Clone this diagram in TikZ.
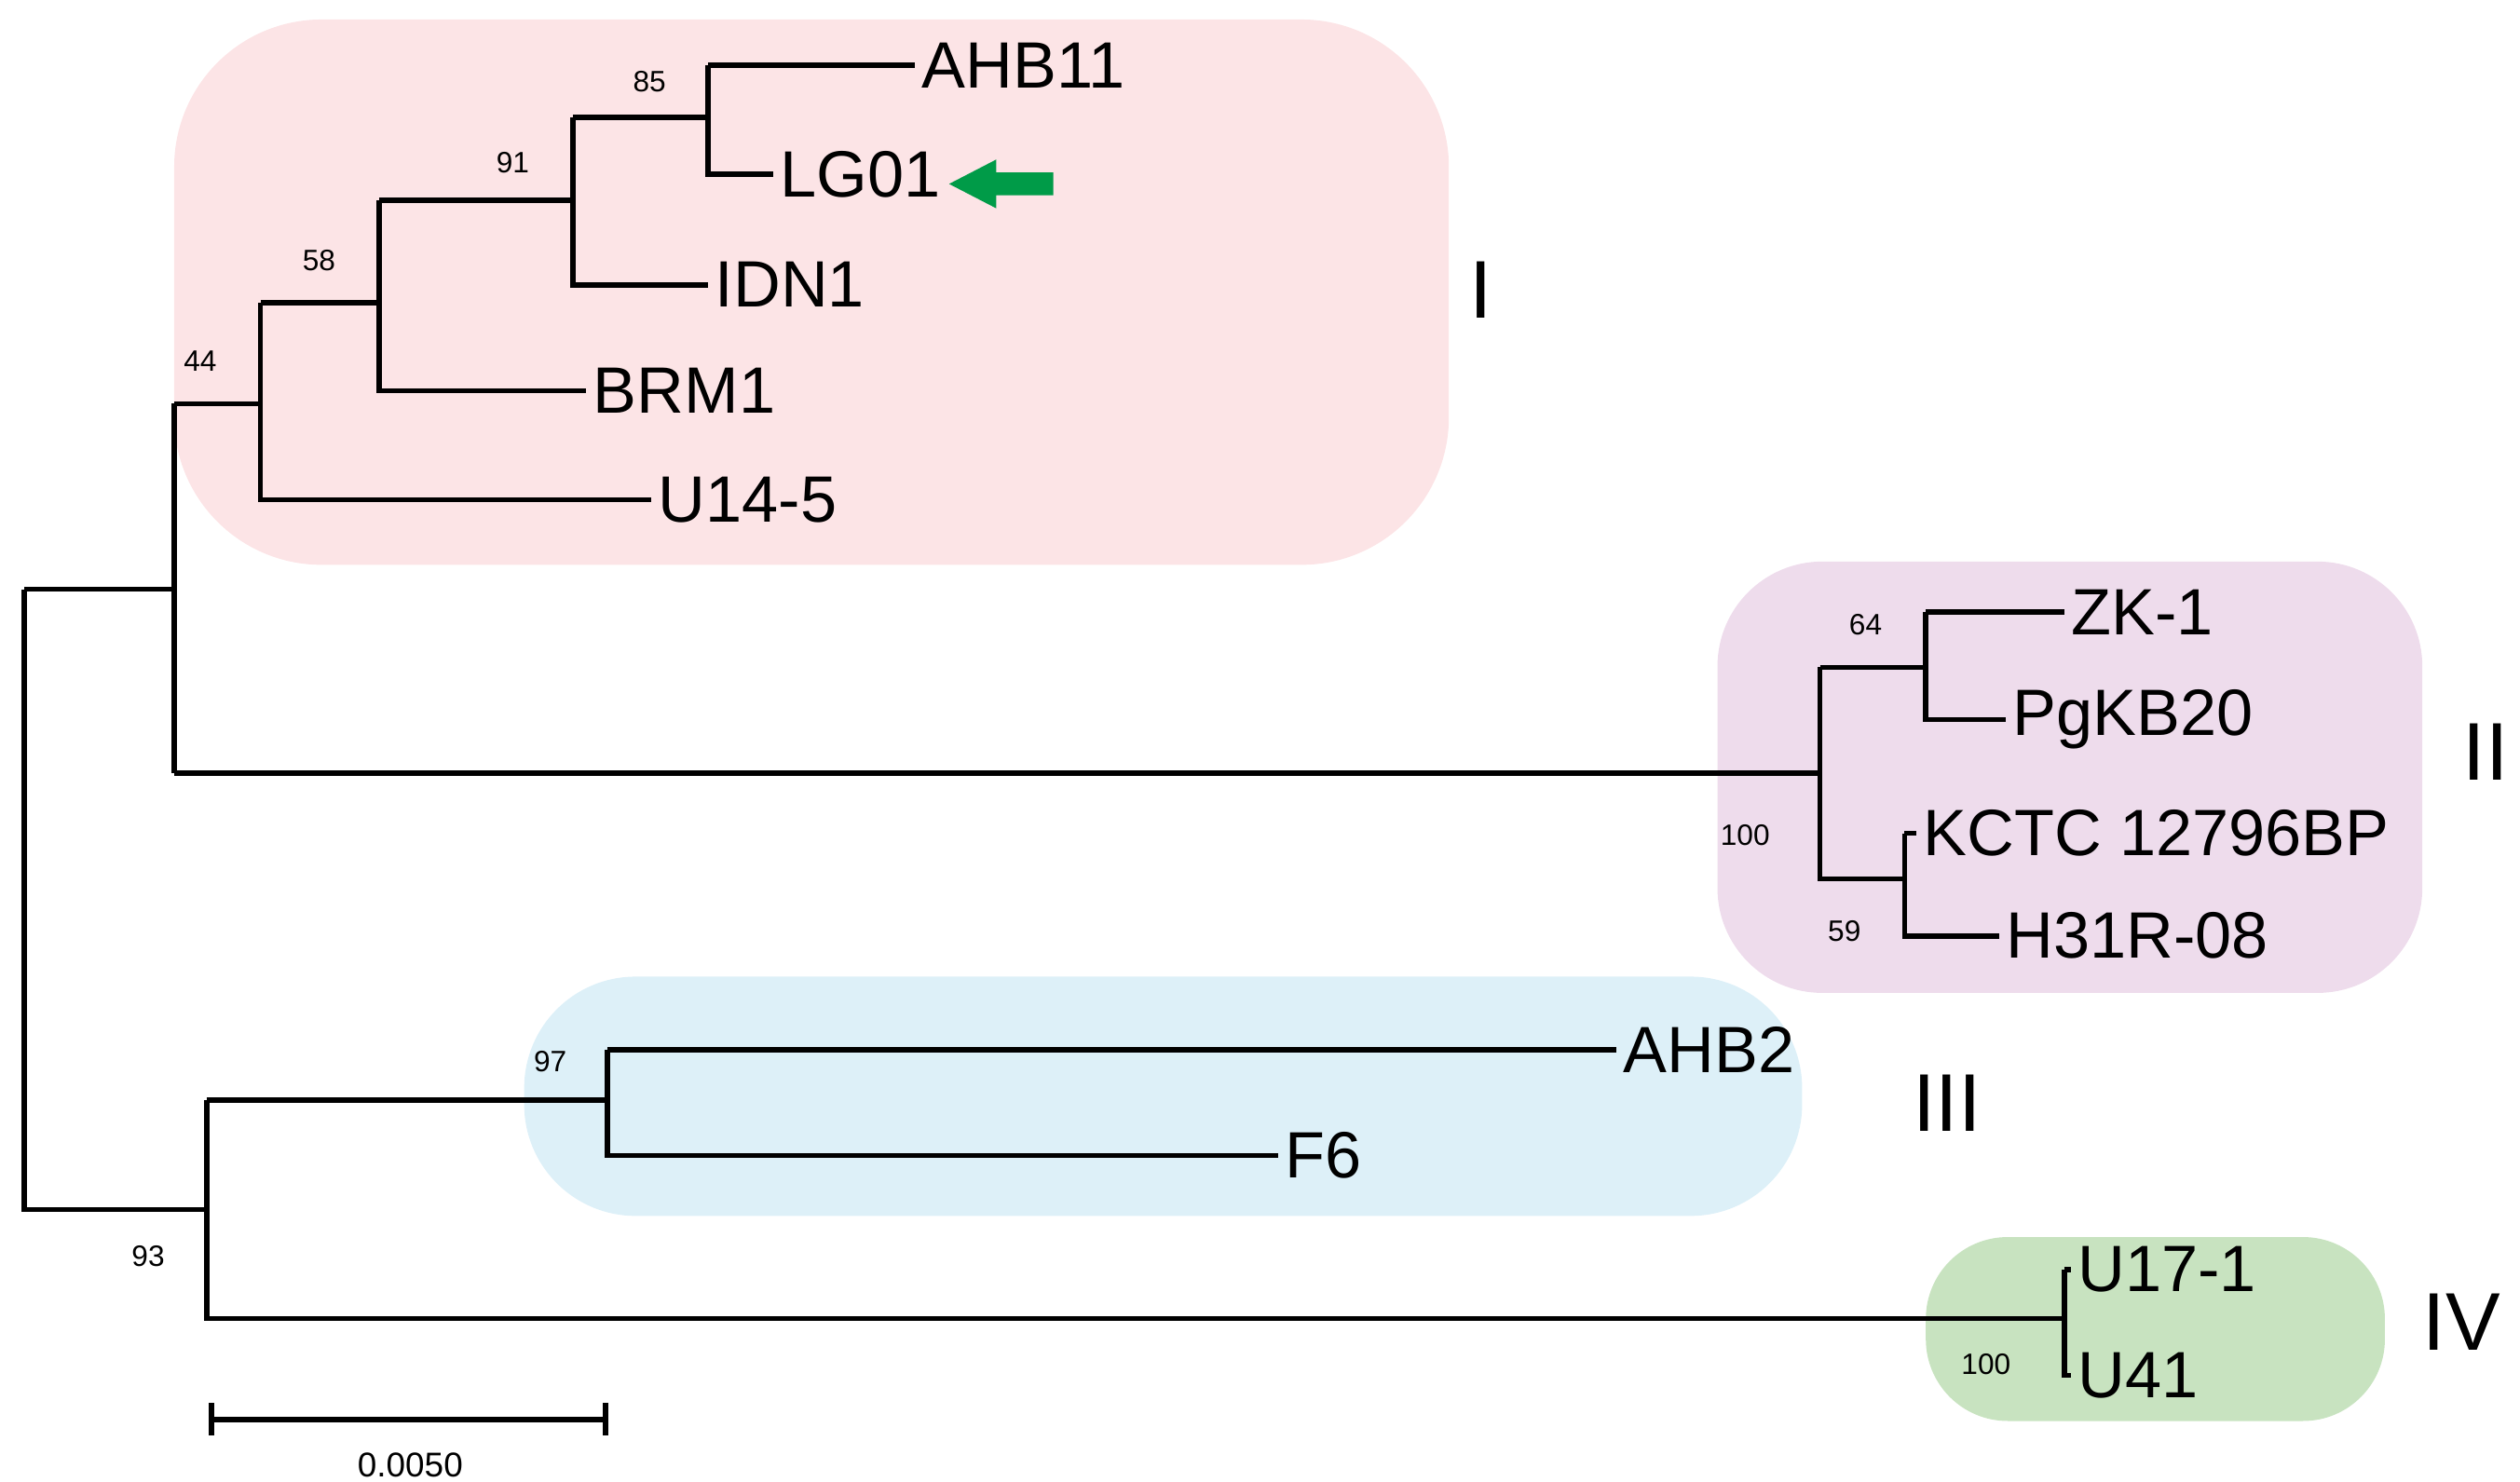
\documentclass[tikz,border=0pt]{standalone}
\usepackage{fontspec}
\setmainfont{Liberation Sans}
\begin{document}
\begin{tikzpicture}[x=0.017474cm,y=-0.017474cm,
 br/.style={line width=1.6pt},
 tip/.style={anchor=west,inner sep=2pt,font=\fontsize{20}{20}\selectfont},
 bs/.style={font=\fontsize{9}{10}\selectfont,inner sep=0pt},
 cl/.style={font=\fontsize{25}{25}\selectfont,inner sep=0pt},
 box/.style={rounded corners=45pt}]
\useasboundingbox (0,0) rectangle (1548,910);
\fill[box,fill={rgb,255:red,252;green,228;blue,230}] (107,12) rectangle (890,347);
\fill[rounded corners=32pt,fill={rgb,255:red,238;green,220;blue,236}] (1055,345) rectangle (1488,610);
\fill[rounded corners=34pt,fill={rgb,255:red,221;green,240;blue,248}] (322,600) rectangle (1107,747);
\fill[rounded corners=25pt,fill={rgb,255:red,200;green,227;blue,192}] (1183,760) rectangle (1465,873);
% internal nodes
\coordinate (r) at (15,362);
\coordinate (a) at (107,362);
\coordinate (b) at (160,248);
\coordinate (c) at (233,186);
\coordinate (d) at (352,123);
\coordinate (e) at (435,72);
\coordinate (f) at (1118,475);
\coordinate (g) at (1183,410);
\coordinate (h) at (1170,540);
\coordinate (k) at (127,743);
\coordinate (m) at (373,676);
\coordinate (n) at (1268,810);
% tips
\node[tip] (AHB11) at (562,40) {AHB11};
\node[tip] (LG01) at (475,107) {LG01};
\node[tip] (IDN1) at (435,175) {IDN1};
\node[tip] (BRM1) at (360,240) {BRM1};
\node[tip] (U145) at (400,307) {U14-5};
\node[tip] (ZK1) at (1268,376) {ZK-1};
\node[tip] (PgKB) at (1232,442) {PgKB20};
\node[tip] (KCTC) at (1177,512) {KCTC 12796BP};
\node[tip] (H31) at (1228,575) {H31R-08};
\node[tip] (AHB2) at (993,645) {AHB2};
\node[tip] (F6) at (785,710) {F6};
\node[tip] (U171) at (1272,780) {U17-1};
\node[tip] (U41) at (1272,845) {U41};
% branches
\draw[br] (r) |- (a);
\draw[br] (r) |- (k);
\draw[br] (a|-b) -- (b); \draw[br] (a|-b) -- (a|-f);
\draw[br] (a|-f) -- (f);
\draw[br] (b|-c) |- (U145.west);
\draw[br] (b|-c) -- (c);
\draw[br] (c|-d) -- (d); \draw[br] (c|-d) |- (BRM1.west);
\draw[br] (d|-e) -- (e); \draw[br] (d|-e) |- (IDN1.west);
\draw[br] (e|-AHB11) -- (AHB11.west); \draw[br] (e|-AHB11) |- (LG01.west);
\draw[br] (f|-g) -- (g); \draw[br] (f|-g) |- (h);
\draw[br] (g|-ZK1) -- (ZK1.west); \draw[br] (g|-ZK1) |- (PgKB.west);
\draw[br] (h|-KCTC) -- (KCTC.west); \draw[br] (h|-KCTC) |- (H31.west);
\draw[br] (k|-m) -- (m); \draw[br] (k|-m) |- (n);
\draw[br] (m|-AHB2) -- (AHB2.west); \draw[br] (m|-AHB2) |- (F6.west);
\draw[br] (n|-U171) -- (U171.west); \draw[br] (n|-U171) |- (U41.west);
% bootstrap
\node[bs] at (123,222) {44};
\node[bs] at (196,160) {58};
\node[bs] at (315,100) {91};
\node[bs] at (399,50) {85};
\node[bs] at (1146,384) {64};
\node[bs] at (1072,513) {100};
\node[bs] at (1133,572) {59};
\node[bs] at (338,652) {97};
\node[bs] at (91,772) {93};
\node[bs] at (1220,838) {100};
% arrow
\coordinate (ah) at (583,113);
\fill[fill={rgb,255:red,0;green,155;blue,72}] (ah) -- (612,98) -- (612,106) -- (647,106) -- (647,120) -- (612,120) -- (612,128) -- cycle;
% clade labels
\node[cl] at (910,178) {I};
\node[cl] at (1527,462) {II};
\node[cl] at (1196,678) {III};
\node[cl] at (1512,812) {IV};
% scale
\coordinate (s1) at (130,872); \coordinate (s2) at (372,872);
\draw[br] (s1) -- (s2);
\draw[br] (130,862) -- (130,882); \draw[br] (372,862) -- (372,882);
\node[font=\fontsize{10.5}{11}\selectfont,inner sep=0pt] at (252,900) {0.0050};
\end{tikzpicture}
\end{document}
